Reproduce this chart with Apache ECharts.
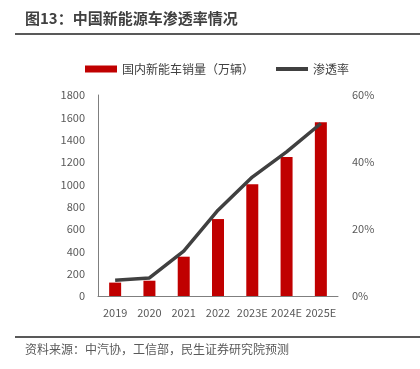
<!DOCTYPE html>
<html>
<head>
<meta charset="utf-8">
<script src="https://cdn.jsdelivr.net/npm/echarts@6/dist/echarts.min.js"></script>
<style>
html,body{margin:0;padding:0;background:#fff;}
#chart{width:420px;height:369px;}
</style>
</head>
<body>
<div id="chart"></div>
<script>
var years = ['2019','2020','2021','2022','2023E','2024E','2025E'];
var sales = [120, 137, 352, 689, 1000, 1245, 1555];
var penetration = [0.047, 0.054, 0.134, 0.256, 0.355, 0.43, 0.515];
var leftTicks = [0, 1800, 200];
var rightTicks = [0, 0.6, 0.2];

function drawChart(){
	var chart = echarts.init(document.getElementById('chart'));
	var font = '"Noto Sans CJK SC", "Open Sans", sans-serif';
	var option = {
		animation: false,
		textStyle: { fontFamily: font },
		graphic: [
			{ type: 'text', left: 25, top: 11, style: { text: '图13：中国新能源车渗透率情况', font: 'bold 15px ' + font, fill: '#404040' } },
			{ type: 'rect', shape: { x: 15, y: 33, width: 405, height: 2 }, style: { fill: '#595959' } },
			{ type: 'rect', shape: { x: 15, y: 336, width: 405, height: 2 }, style: { fill: '#595959' } },
			{ type: 'text', left: 25, top: 343, style: { text: '资料来源：中汽协，工信部，民生证券研究院预测', font: '12px ' + font, fill: '#595959' } }
		],
		legend: {
			top: 58,
			left: 80,
			itemWidth: 32,
			itemHeight: 7,
			itemGap: 22,
			textStyle: { fontSize: 12, color: '#404040', fontFamily: font },
			data: [
				{ name: '国内新能车销量（万辆）', icon: 'rect' },
				{ name: '渗透率', icon: 'path://M0,0 H32 V4 H0 Z' }
			]
		},
		grid: { left: 98, right: 82, top: 95, bottom: 73 },
		xAxis: {
			type: 'category',
			data: years,
			axisTick: { show: false },
			axisLine: { lineStyle: { color: '#7f7f7f', width: 1 } },
			axisLabel: { color: '#595959', fontSize: 11, margin: 11, interval: 0 }
		},
		yAxis: [
			{
				type: 'value',
				min: leftTicks[0], max: leftTicks[1], interval: leftTicks[2],
				splitLine: { show: false },
				axisTick: { show: false },
				axisLine: { show: true, lineStyle: { color: '#7f7f7f', width: 1 } },
				axisLabel: {
					color: '#595959', fontSize: 11, margin: 13,
					formatter: function (v) { return String(v); }
				}
			},
			{
				type: 'value',
				min: rightTicks[0], max: rightTicks[1], interval: rightTicks[2],
				splitLine: { show: false },
				axisTick: { show: false },
				axisLine: { show: false },
				axisLabel: {
					color: '#595959', fontSize: 11, margin: 14,
					formatter: function (v) { return Math.round(v * 100) + '%'; }
				}
			}
		],
		series: [
			{
				name: '国内新能车销量（万辆）',
				type: 'bar',
				data: sales,
				barWidth: 12,
				itemStyle: { color: '#c00000' }
			},
			{
				name: '渗透率',
				type: 'line',
				yAxisIndex: 1,
				data: penetration,
				symbol: 'none',
				lineStyle: { color: '#404040', width: 3.5 },
				itemStyle: { color: '#404040' }
			}
		]
	};
	chart.setOption(option);
}

drawChart();
</script>
</body>
</html>
